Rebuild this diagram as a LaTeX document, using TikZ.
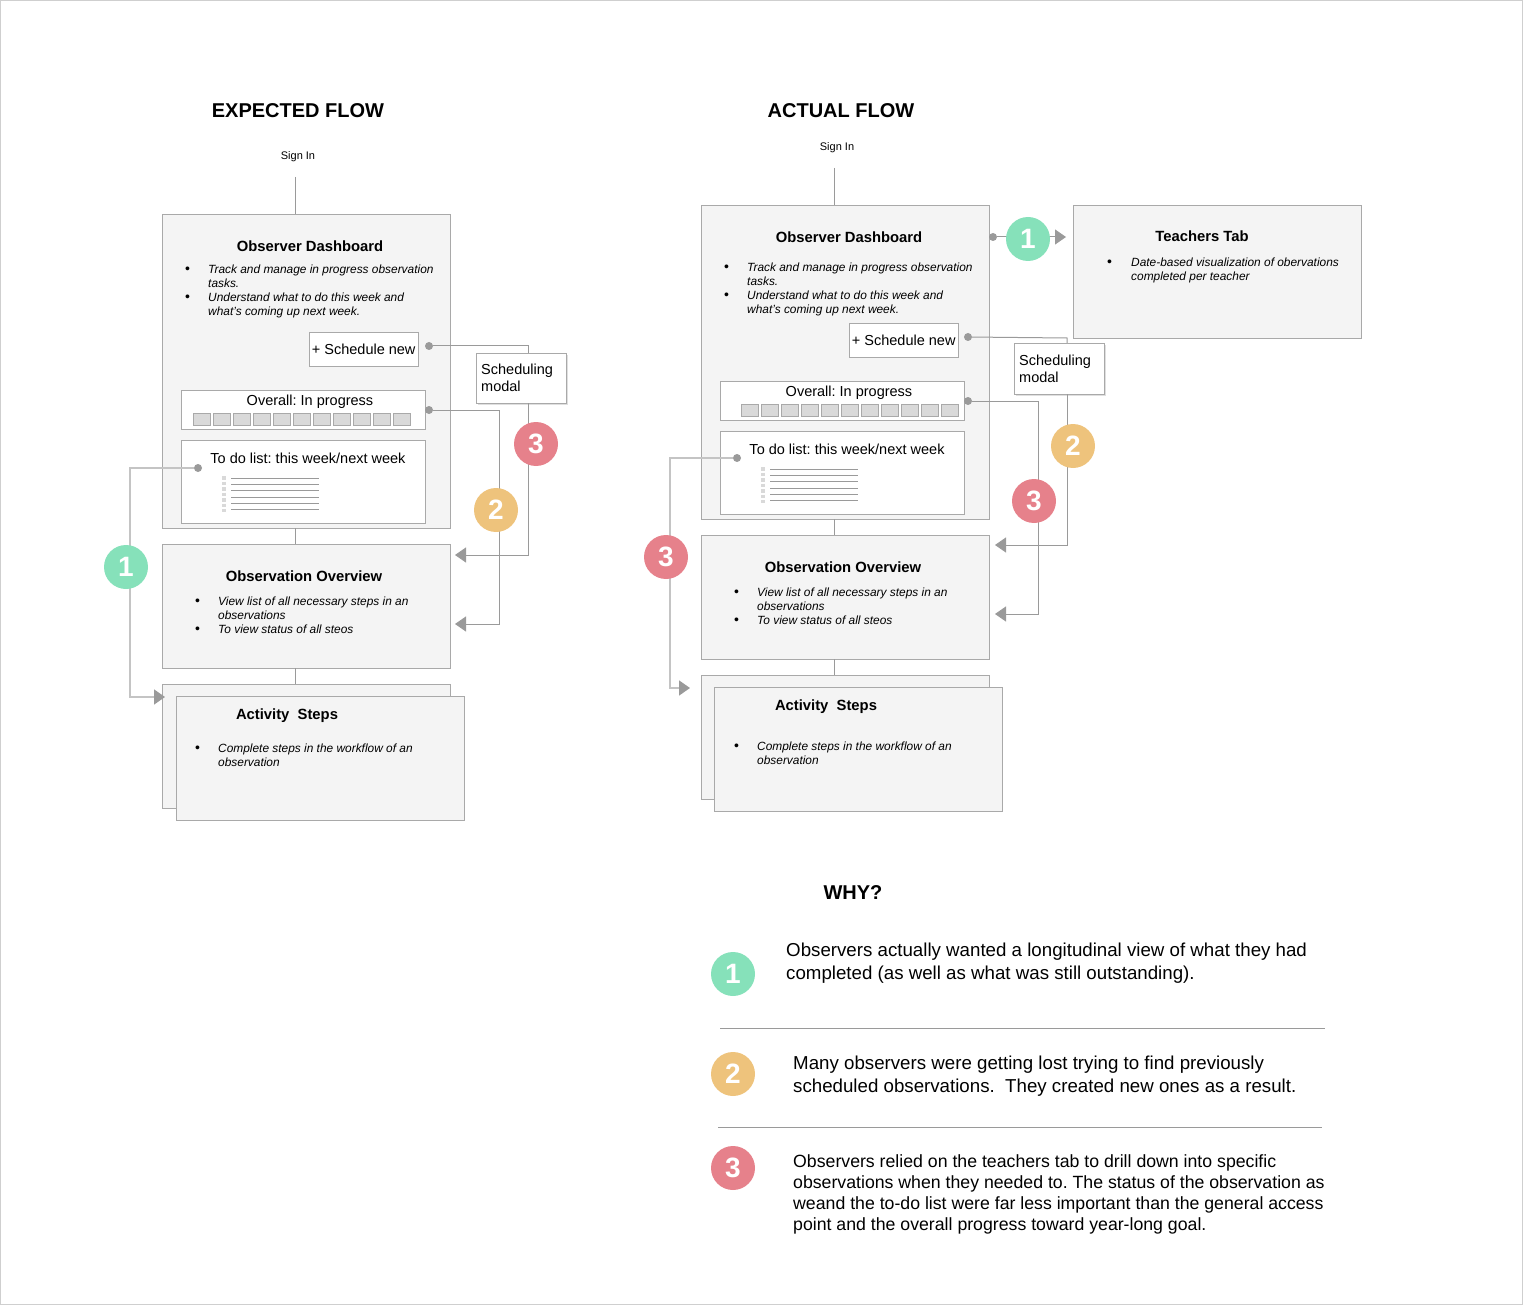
\documentclass[tikz,border=0pt]{standalone}
\usepackage{fontspec}
\setmainfont{Liberation Sans}
\usetikzlibrary{arrows.meta,positioning,shadows}
\definecolor{boxGray}{HTML}{A9A9A9}
\definecolor{screenFill}{HTML}{F4F4F4}
\definecolor{lineGray}{HTML}{9A9A9A}
\definecolor{lightLine}{HTML}{C4C4C4}
\definecolor{cellFill}{HTML}{D9D9D9}
\definecolor{badgeGreen}{HTML}{86E1BA}
\definecolor{badgeYellow}{HTML}{EEC37C}
\definecolor{badgeRed}{HTML}{E6818B}
\definecolor{frameGray}{HTML}{CFCFCF}
\newcommand{\listDot}{{\upshape\fontsize{14}{14}\selectfont\textbullet}}

\begin{document}
\frenchspacing
\begin{tikzpicture}[x=1pt,y=-1pt,
  screenBox/.style={draw=boxGray,fill=screenFill,anchor=north west,inner sep=0,minimum width=288pt,minimum height=124pt},
  widget/.style={draw=boxGray,fill=white,anchor=north west,inner sep=0,font=\fontsize{14.5}{17}\selectfont},
  flowHead/.style={font=\fontsize{20}{24}\selectfont\bfseries},
  screenTitle/.style={font=\fontsize{14.8}{17}\selectfont\bfseries},
  uiText/.style={font=\fontsize{14.5}{17}\selectfont},
  signText/.style={font=\fontsize{11}{13}\selectfont},
  noteText/.style={anchor=base west,inner sep=0,font=\fontsize{11.9}{14}\selectfont\itshape},
  whyText/.style={anchor=base west,inner sep=0,font=\fontsize{18.7}{23}\selectfont},
  hotspot/.style={circle,fill=lineGray,inner sep=0,minimum size=8pt},
  badge/.style={circle,inner sep=0,minimum size=44pt,text=white,font=\fontsize{28}{30}\selectfont\bfseries},
  wire/.style={draw=lineGray,line width=1pt},
  flowArrow/.style={wire,-{Triangle[length=11pt,width=15pt]}},
  lightArrow/.style={draw=lightLine,line width=1.6pt,-{Triangle[length=11pt,width=15pt,fill=lineGray,color=lineGray]}},
  barCell/.style={draw=boxGray,fill=cellFill,line width=0.8pt},
  listLine/.style={draw=lineGray,line width=0.8pt},
  listDots/.style={draw=cellFill,line width=4pt,dash pattern=on 3.5pt off 2pt},
  sepRule/.style={draw=lineGray,line width=1pt}]
\useasboundingbox (0,0) rectangle (1523,1305);
\draw[frameGray] (0.5,0.5) rectangle (1522.5,1304.5);

% expected flow
\node[flowHead] (expTitle) at (298,111) {EXPECTED FLOW};
\node[signText] (signInL) at (298,157) {Sign In};
\coordinate (spineL) at (295,177);
\node[screenBox,minimum height=314pt] (dashL) at (162,214) {};
\draw[wire] (spineL) -- (spineL |- dashL.north);
\node[screenTitle] (dashLTitle) at (310,246) {Observer Dashboard};
\node[noteText] (dashLNote) at (185,274) {\begin{tabular}[t]{@{}p{23pt}@{}l@{}}
  \listDot & Track and manage in progress observation\\
  & tasks.\\
  \listDot & Understand what to do this week and\\
  & what’s coming up next week.
\end{tabular}};
\node[widget,minimum width=109pt,minimum height=34pt] (schedL) at (309,332) {+ Schedule new};
\node[hotspot] (schedLDot) at (429,346) {};
\node[widget,drop shadow={opacity=0.25,shadow xshift=1.5pt,shadow yshift=-1.5pt},
  minimum width=90pt,minimum height=50pt,text width=80pt,align=left] (modalL) at (476,353) {Scheduling\\modal};
\node[widget,minimum width=244pt,minimum height=39pt] (overallL) at (181,390) {};
\node[uiText] (overallLText) at (310,402) {Overall: In progress};
\foreach \i in {0,...,10}
  \draw[barCell] (193+20*\i,413) rectangle ++(17.5,12.5);
\node[hotspot] (overallLDot) at (429,410) {};
\node[widget,minimum width=244pt,minimum height=83pt] (todoL) at (181,440) {};
\node[uiText] (todoLText) at (308,458) {To do list: this week/next week};
\node[hotspot] (todoLDot) at (198,468) {};
\draw[listDots] (224,476) -- (224,512);
\foreach \k in {0,...,5}
  \draw[listLine] (231,478+6.3*\k) -- (319,478+6.3*\k);

\node[screenBox] (overviewL) at (162,544) {};
\draw[wire] (spineL |- dashL.south) -- (spineL |- overviewL.north);
\node[screenTitle] (overviewLTitle) at (304,576) {Observation Overview};
\node[noteText] (overviewLNote) at (195,605) {\begin{tabular}[t]{@{}p{23pt}@{}l@{}}
  \listDot & View list of all necessary steps in an\\
  & observations\\
  \listDot & To view status of all steos
\end{tabular}};
\node[screenBox] (stepsBackL) at (162,684) {};
\draw[wire] (spineL |- overviewL.south) -- (spineL |- stepsBackL.north);
\node[screenBox] (stepsL) at (176,696) {};
\node[screenTitle] (stepsLTitle) at (287,716) {Activity\ \ Steps};
\node[noteText] (stepsLNote) at (195,752) {\begin{tabular}[t]{@{}p{23pt}@{}l@{}}
  \listDot & Complete steps in the workflow of an\\
  & observation
\end{tabular}};

% expected flow: connectors
\coordinate (railL3) at (528,346);
\coordinate (ovInL3) at (455,555);
\draw[wire] (schedLDot) -- (railL3) -- (railL3 |- modalL.north);
\draw[flowArrow] (railL3 |- modalL.south) |- (ovInL3);
\coordinate (railL2) at (499,410);
\coordinate (ovInL2) at (455,624);
\draw[flowArrow] (overallLDot) -- (railL2) |- (ovInL2);
\coordinate (railL1) at (130,468);
\coordinate (stepsInL) at (165,697);
\draw[lightArrow] (todoLDot) -- (railL1) |- (stepsInL);
\node[badge,fill=badgeRed] (badgeL3) at (536,444) {3};
\node[badge,fill=badgeYellow] (badgeL2) at (496,510) {2};
\node[badge,fill=badgeGreen] (badgeL1) at (126,567) {1};

% actual flow
\node[flowHead] (actTitle) at (841,111) {ACTUAL FLOW};
\node[signText] (signInR) at (837,148) {Sign In};
\coordinate (spineR) at (834,168);
\node[screenBox,minimum height=314pt] (dashR) at (701,205) {};
\draw[wire] (spineR) -- (spineR |- dashR.north);
\node[screenTitle] (dashRTitle) at (849,237) {Observer Dashboard};
\node[noteText] (dashRNote) at (724,272) {\begin{tabular}[t]{@{}p{23pt}@{}l@{}}
  \listDot & Track and manage in progress observation\\
  & tasks.\\
  \listDot & Understand what to do this week and\\
  & what’s coming up next week.
\end{tabular}};
\node[hotspot] (dashRDot) at (993,237) {};
\node[widget,minimum width=109pt,minimum height=34pt] (schedR) at (849,323) {+ Schedule new};
\node[hotspot] (schedRDot) at (968,337) {};
\node[widget,drop shadow={opacity=0.25,shadow xshift=1.5pt,shadow yshift=-1.5pt},
  minimum width=90pt,minimum height=51pt,text width=80pt,align=left] (modalR) at (1014,343) {Scheduling\\modal};
\node[widget,minimum width=244pt,minimum height=39pt] (overallR) at (720,381) {};
\node[uiText] (overallRText) at (849,393) {Overall: In progress};
\foreach \i in {0,...,10}
  \draw[barCell] (741+20*\i,404) rectangle ++(17.5,12.5);
\node[hotspot] (overallRDot) at (968,401) {};
\node[widget,minimum width=244pt,minimum height=83pt] (todoR) at (720,431) {};
\node[uiText] (todoRText) at (847,449) {To do list: this week/next week};
\node[hotspot] (todoRDot) at (737,458) {};
\draw[listDots] (763,467) -- (763,503);
\foreach \k in {0,...,5}
  \draw[listLine] (770,469+6.3*\k) -- (858,469+6.3*\k);

\node[screenBox,minimum height=133pt] (teachTab) at (1073,205) {};
\node[screenTitle] (teachTabTitle) at (1202,236) {Teachers Tab};
\node[noteText] (teachTabNote) at (1107,267) {\begin{tabular}[t]{@{}p{24pt}@{}l@{}}
  \listDot & Date-based visualization of obervations\\
  & completed per teacher
\end{tabular}};

\node[screenBox] (overviewR) at (701,535) {};
\draw[wire] (spineR |- dashR.south) -- (spineR |- overviewR.north);
\node[screenTitle] (overviewRTitle) at (843,567) {Observation Overview};
\node[noteText] (overviewRNote) at (734,596) {\begin{tabular}[t]{@{}p{23pt}@{}l@{}}
  \listDot & View list of all necessary steps in an\\
  & observations\\
  \listDot & To view status of all steos
\end{tabular}};
\node[screenBox] (stepsBackR) at (701,675) {};
\draw[wire] (spineR |- overviewR.south) -- (spineR |- stepsBackR.north);
\node[screenBox] (stepsR) at (714,687) {};
\node[screenTitle] (stepsRTitle) at (826,707) {Activity\ \ Steps};
\node[noteText] (stepsRNote) at (734,750) {\begin{tabular}[t]{@{}p{23pt}@{}l@{}}
  \listDot & Complete steps in the workflow of an\\
  & observation
\end{tabular}};

% actual flow: connectors
\coordinate (tabIn) at (1066,237);
\draw[flowArrow] (dashRDot) -- (tabIn);
\coordinate (railR2) at (1067,338);
\coordinate (ovInR2) at (995,545);
\draw[wire] (schedRDot) -- (railR2) -- (railR2 |- modalR.north);
\draw[flowArrow] (railR2 |- modalR.south) |- (ovInR2);
\coordinate (railR3) at (1038,401);
\coordinate (ovInR3) at (995,614);
\draw[flowArrow] (overallRDot) -- (railR3) |- (ovInR3);
\coordinate (railR1) at (670,458);
\coordinate (stepsInR) at (690,688);
\draw[lightArrow] (todoRDot) -- (railR1) |- (stepsInR);
\node[badge,fill=badgeGreen] (badgeR1) at (1028,239) {1};
\node[badge,fill=badgeYellow] (badgeR2) at (1073,446) {2};
\node[badge,fill=badgeRed] (badgeR3) at (1034,501) {3};
\node[badge,fill=badgeRed] (badgeR3b) at (666,557) {3};

% why
\node[flowHead] (whyTitle) at (853,893) {WHY?};
\node[badge,fill=badgeGreen] (whyBadge1) at (733,974) {1};
\node[whyText] (whyNote1) at (786,956) {\begin{tabular}[t]{@{}l@{}}
  Observers actually wanted a longitudinal view of what they had\\
  completed (as well as what was still outstanding).
\end{tabular}};
\draw[sepRule] (720,1028) -- (1325,1028);
\node[badge,fill=badgeYellow] (whyBadge2) at (733,1074) {2};
\node[whyText] (whyNote2) at (793,1069) {\begin{tabular}[t]{@{}l@{}}
  Many observers were getting lost trying to find previously\\
  scheduled observations.\ \ They created new ones as a result.
\end{tabular}};
\draw[sepRule] (718,1127) -- (1322,1127);
\node[badge,fill=badgeRed] (whyBadge3) at (733,1168) {3};
\node[whyText,font=\fontsize{17.7}{21}\selectfont] (whyNote3) at (793,1167) {\begin{tabular}[t]{@{}l@{}}
  Observers relied on the teachers tab to drill down into specific\\
  observations when they needed to. The status of the observation as\\
  weand the to-do list were far less important than the general access\\
  point and the overall progress toward year-long goal.
\end{tabular}};
\end{tikzpicture}
\end{document}
